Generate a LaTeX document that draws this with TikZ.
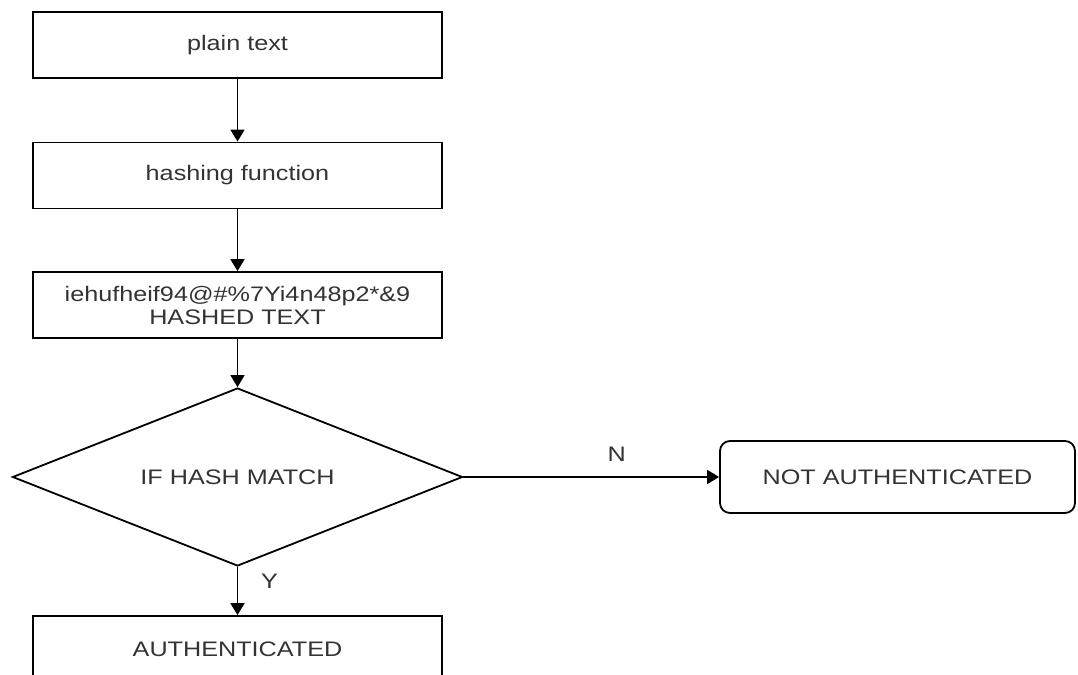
\documentclass[tikz,border=0pt]{standalone}
\usepackage{fontspec}
\setmainfont[FakeStretch=1.2]{Liberation Sans}
\usetikzlibrary{shapes.geometric,arrows.meta}

\begin{document}
\begin{tikzpicture}[x=0.5pt, y=-0.5pt,
  line width=0.9pt,
  box/.style={draw, rectangle, minimum width=204.5pt, minimum height=33pt,
    inner sep=0pt, align=center, font=\fontsize{10.5}{11.5}\selectfont, text=black!80},
  decision/.style={draw, diamond, aspect=2.53, minimum width=225pt, minimum height=89pt,
    inner sep=0pt, font=\fontsize{10.5}{11.5}\selectfont, text=black!80},
  flow/.style={-{Triangle[length=6pt, width=7pt]}},
  tag/.style={font=\fontsize{10.5}{11.5}\selectfont, text=black!80}]
  \useasboundingbox (0,0) rectangle (1078,675);

  \node[box] (plain) at (237.5,45) {plain text};
  \node[box] (hash) at (237.5,175.5) {hashing function};
  \node[box] (hashed) at (237.5,305) {iehufheif94@\#\%7Yi4n48p2*\&9\\HASHED TEXT};

  \node[decision] (match) at (237.5,477) {IF HASH MATCH};

  \node[box] (auth) at (237.5,649) {AUTHENTICATED};
  \node[box, minimum width=177.5pt, minimum height=36pt, rounded corners=5pt]
    (notauth) at (897.5,477) {NOT AUTHENTICATED};

\draw[flow] (plain) to (hash);
\draw[flow] (hash) to (hashed);
\draw[flow] (hashed) to (match);
\draw[flow] (match) to node[tag, right, pos=0.3, xshift=8pt] {Y} (auth);
\draw[flow] (match) to node[tag, above, pos=0.6, yshift=4pt] {N} (notauth);
\end{tikzpicture}
\end{document}
